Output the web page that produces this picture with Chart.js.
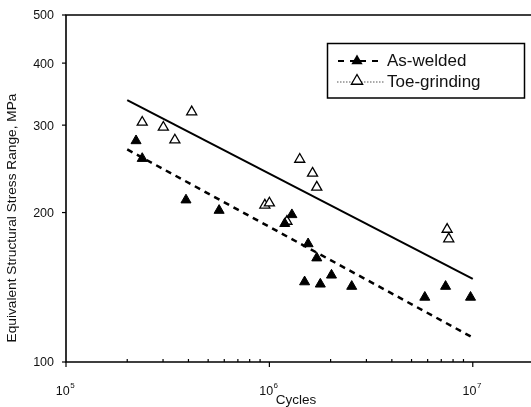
<!DOCTYPE html>
<html>
<head>
<meta charset="utf-8">
<script src="https://cdn.jsdelivr.net/npm/chart.js@4/dist/chart.umd.min.js"></script>
<style>
html,body{margin:0;padding:0;background:#fff;overflow:hidden;}
canvas{display:block;}
</style>
</head>
<body>
<canvas id="c" width="545" height="407"></canvas>
<script>
// ---- data ----
const awCycles = [2.21e5, 2.37e5, 3.89e5, 5.66e5, 1.19e6, 1.29e6, 1.49e6, 1.55e6, 1.71e6, 1.78e6, 2.02e6, 2.54e6, 5.81e6, 7.35e6, 9.75e6];
const awStress = [279, 257, 212, 202, 190, 198, 145, 173, 162, 143.5, 149.6, 142, 135, 142, 135];
const tgCycles = [2.37e5, 3.01e5, 3.43e5, 4.15e5, 9.5e5, 1.0e6, 1.22e6, 1.41e6, 1.63e6, 1.71e6, 7.48e6, 7.62e6];
const tgStress = [304, 297, 280, 319, 207, 209, 192, 256, 240, 225, 185, 177];
const fitCycles = [2.0e5, 1.0e7];
const awFitStress = [268, 112];
const tgFitStress = [337, 147];
const yTicks = [100, 200, 300, 400, 500];
const xMajorExp = [5, 6, 7];
const legendLabels = ['As-welded', 'Toe-grinding'];
const xTitle = 'Cycles';
const yTitle = 'Equivalent Structural Stress Range, MPa';

const FONT = '"Liberation Sans", Arial, sans-serif';
const toXY = (xs, ys) => xs.map((x, i) => ({x: x, y: ys[i]}));

const axesPlugin = {
  id: 'axesPlugin',
  beforeDatasetsDraw(chart) {
    const ctx = chart.ctx, a = chart.chartArea;
    const xs = chart.scales.x, ys = chart.scales.y;
    ctx.save();
    ctx.strokeStyle = '#000';
    ctx.lineWidth = 1.6;
    ctx.beginPath();
    ctx.moveTo(a.left, a.top); ctx.lineTo(a.right + 20, a.top);
    ctx.moveTo(a.left, a.top - 0.8); ctx.lineTo(a.left, a.bottom);
    ctx.lineTo(a.right + 20, a.bottom);
    ctx.stroke();
    // y ticks
    ctx.lineWidth = 1.2;
    ctx.fillStyle = '#111';
    ctx.font = '12.5px ' + FONT;
    ctx.textAlign = 'right';
    ctx.textBaseline = 'middle';
    yTicks.forEach(v => {
      const py = ys.getPixelForValue(v);
      ctx.beginPath(); ctx.moveTo(a.left - 4, py); ctx.lineTo(a.left, py); ctx.stroke();
      ctx.fillText(String(v), a.left - 12, py + 1);
    });
    // x ticks
    xMajorExp.forEach(e => {
      const base = Math.pow(10, e);
      const px = xs.getPixelForValue(base);
      ctx.beginPath(); ctx.moveTo(px, a.bottom); ctx.lineTo(px, a.bottom + 5); ctx.stroke();
      if (e < 7) {
        for (let m = 2; m <= 9; m++) {
          const qx = xs.getPixelForValue(base * m);
          ctx.beginPath(); ctx.moveTo(qx, a.bottom); ctx.lineTo(qx, a.bottom - 3); ctx.stroke();
        }
      }
      ctx.font = '12.5px ' + FONT;
      const w1 = ctx.measureText('10').width;
      ctx.font = '8px ' + FONT;
      const w2 = ctx.measureText(String(e)).width;
      const sx = px - (w1 + w2) / 2 - 1;
      ctx.textAlign = 'left';
      ctx.textBaseline = 'alphabetic';
      ctx.font = '12.5px ' + FONT;
      ctx.fillText('10', sx, a.bottom + 33);
      ctx.font = '8px ' + FONT;
      ctx.fillText(String(e), sx + w1 + 0.5, a.bottom + 26);
    });
    // titles
    ctx.font = '13.5px ' + FONT;
    ctx.textAlign = 'center';
    ctx.textBaseline = 'middle';
    ctx.fillText(xTitle, 296, 400);
    ctx.save();
    ctx.translate(12, 218);
    ctx.rotate(-Math.PI / 2);
    ctx.font = '13.7px ' + FONT;
    ctx.fillText(yTitle, 0, 0);
    ctx.restore();
    ctx.restore();
  },
  afterDraw(chart) {
    const ctx = chart.ctx;
    ctx.save();
    // legend box
    ctx.fillStyle = '#fff';
    ctx.fillRect(327, 43, 198, 55);
    ctx.strokeStyle = '#000';
    ctx.lineWidth = 1.5;
    ctx.strokeRect(327.5, 43.5, 197, 54.5);
    const tri = (cx, cy, r, filled) => {
      ctx.beginPath();
      ctx.moveTo(cx, cy - r);
      ctx.lineTo(cx + r * 0.866, cy + r * 0.5);
      ctx.lineTo(cx - r * 0.866, cy + r * 0.5);
      ctx.closePath();
      if (filled) { ctx.fillStyle = '#000'; ctx.fill(); }
      else { ctx.fillStyle = '#fff'; ctx.fill(); ctx.lineWidth = 1.3; ctx.strokeStyle = '#000'; ctx.stroke(); }
    };
    // row 1 dashed
    ctx.strokeStyle = '#000';
    ctx.lineWidth = 2;
    ctx.beginPath();
    ctx.moveTo(338, 61); ctx.lineTo(344, 61);
    ctx.moveTo(350, 61); ctx.lineTo(366, 61);
    ctx.moveTo(372, 61); ctx.lineTo(378, 61);
    ctx.stroke();
    tri(357, 61, 6.5, true);
    // row 2 dotted
    ctx.lineWidth = 1;
    ctx.strokeStyle = '#555';
    ctx.setLineDash([1.5, 1.5]);
    ctx.beginPath(); ctx.moveTo(337, 82); ctx.lineTo(384, 82); ctx.stroke();
    ctx.setLineDash([]);
    tri(357, 81, 6.5, false);
    ctx.fillStyle = '#111';
    ctx.font = '17px ' + FONT;
    ctx.textAlign = 'left';
    ctx.textBaseline = 'middle';
    ctx.fillText(legendLabels[0], 387, 61);
    ctx.fillText(legendLabels[1], 387, 82);
    ctx.restore();
  }
};

new Chart(document.getElementById('c'), {
  type: 'scatter',
  data: {
    datasets: [
      {
        label: 'Toe-grinding fit', type: 'line', data: toXY(fitCycles, tgFitStress),
        borderColor: '#000', borderWidth: 2, pointRadius: 0, fill: false, order: 3
      },
      {
        label: 'As-welded fit', type: 'line', data: toXY(fitCycles, awFitStress),
        borderColor: '#000', borderWidth: 2.5, borderDash: [6, 5], pointRadius: 0, fill: false, order: 3
      },
      {
        label: legendLabels[1], data: toXY(tgCycles, tgStress),
        pointStyle: 'triangle', pointRadius: 5.8, backgroundColor: '#fff', borderColor: '#000', borderWidth: 1.3, order: 2
      },
      {
        label: legendLabels[0], data: toXY(awCycles, awStress),
        pointStyle: 'triangle', pointRadius: 5.8, backgroundColor: '#000', borderColor: '#000', borderWidth: 1, order: 1
      }
    ]
  },
  options: {
    responsive: false,
    animation: false,
    layout: { padding: { top: 15, right: 11, left: 0, bottom: 0 } },
    plugins: { legend: { display: false }, tooltip: { enabled: false } },
    scales: {
      x: {
        type: 'logarithmic', min: 1e5, max: 2e7,
        grid: { display: false }, border: { display: false },
        ticks: { display: false },
        afterFit(s) { s.height = 45; }
      },
      y: {
        type: 'logarithmic', min: 100, max: 500,
        grid: { display: false }, border: { display: false },
        ticks: { display: false },
        afterFit(s) { s.width = 66; }
      }
    }
  },
  plugins: [axesPlugin]
});
</script>
</body>
</html>
